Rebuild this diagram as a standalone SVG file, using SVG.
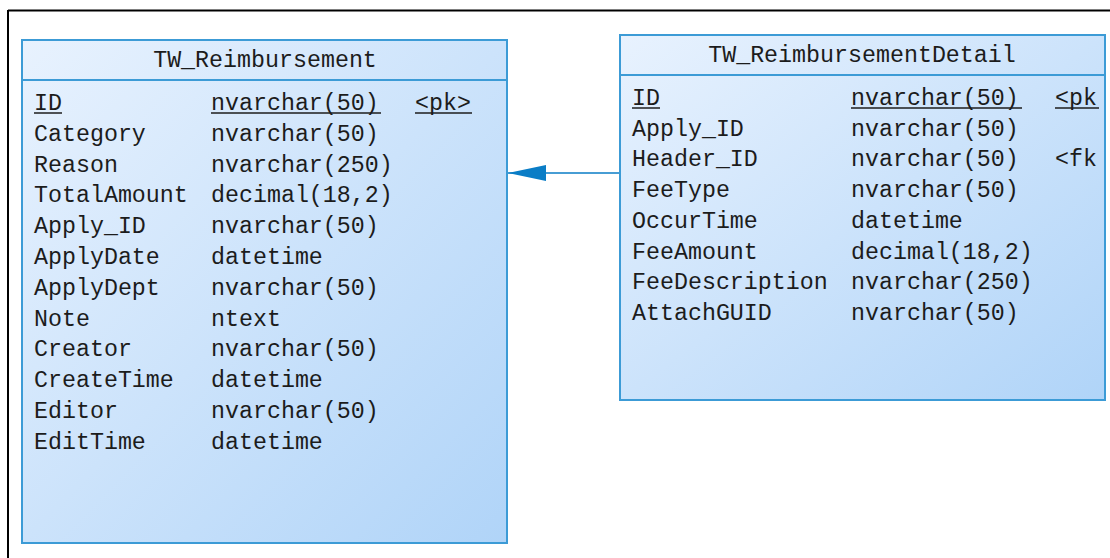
<svg xmlns="http://www.w3.org/2000/svg" width="1110" height="558" viewBox="0 0 1110 558">
<defs>
<linearGradient id="g" x1="0" y1="0" x2="1" y2="1">
<stop offset="0" stop-color="#e8f2fe"/>
<stop offset="1" stop-color="#b0d4f8"/>
</linearGradient>
<marker id="arr" markerWidth="40" markerHeight="18" refX="38" refY="8" orient="auto" markerUnits="userSpaceOnUse">
<path d="M0,0 L38,8 L0,16 Z" fill="#0a7dc6"/>
</marker>
<style>
.box{fill:url(#g);stroke:#3c9bd6;stroke-width:2}
.div{stroke:#3c9bd6;stroke-width:2}
text{font-family:"Liberation Mono","DejaVu Sans Mono",monospace;font-size:23.3px;fill:#1c1c1c}
.t{text-anchor:middle}
.u{stroke:#1c1c1c;stroke-width:1.5}
</style>
</defs>
<g id="frame">
<line x1="8" y1="10.5" x2="1110" y2="10.5" stroke="#000" stroke-width="2"/>
<line x1="8" y1="10" x2="8" y2="558" stroke="#000" stroke-width="2"/>
</g>
<g id="connectors">
<line x1="620" y1="173" x2="508" y2="173" stroke="#0a7dc6" stroke-width="1.5" marker-end="url(#arr)"/>
</g>
<g id="TW_Reimbursement">
<rect class="box" x="22" y="40" width="485" height="503"/>
<line class="div" x1="22" y1="80" x2="507" y2="80"/>
<text class="t" x="265" y="67">TW_Reimbursement</text>
<text x="34" y="110">ID</text><text x="211" y="110">nvarchar(50)</text><text x="415" y="110">&lt;pk&gt;</text>
<line class="u" x1="34" y1="113" x2="62" y2="113"/>
<line class="u" x1="211" y1="113" x2="381" y2="113"/>
<line class="u" x1="415" y1="113" x2="472" y2="113"/>
<text x="34" y="140.8">Category</text><text x="211" y="140.8">nvarchar(50)</text>
<text x="34" y="171.6">Reason</text><text x="211" y="171.6">nvarchar(250)</text>
<text x="34" y="202.4">TotalAmount</text><text x="211" y="202.4">decimal(18,2)</text>
<text x="34" y="233.2">Apply_ID</text><text x="211" y="233.2">nvarchar(50)</text>
<text x="34" y="264">ApplyDate</text><text x="211" y="264">datetime</text>
<text x="34" y="294.8">ApplyDept</text><text x="211" y="294.8">nvarchar(50)</text>
<text x="34" y="325.6">Note</text><text x="211" y="325.6">ntext</text>
<text x="34" y="356.4">Creator</text><text x="211" y="356.4">nvarchar(50)</text>
<text x="34" y="387.2">CreateTime</text><text x="211" y="387.2">datetime</text>
<text x="34" y="418">Editor</text><text x="211" y="418">nvarchar(50)</text>
<text x="34" y="448.8">EditTime</text><text x="211" y="448.8">datetime</text>
</g>
<g id="TW_ReimbursementDetail">
<rect class="box" x="620" y="35" width="485" height="365"/>
<line class="div" x1="620" y1="75" x2="1105" y2="75"/>
<text class="t" x="862" y="62">TW_ReimbursementDetail</text>
<text x="632" y="105">ID</text><text x="851" y="105">nvarchar(50)</text><text x="1055" y="105">&lt;pk</text>
<line class="u" x1="632" y1="108" x2="660" y2="108"/>
<line class="u" x1="851" y1="108" x2="1022" y2="108"/>
<line class="u" x1="1055" y1="108" x2="1099" y2="108"/>
<text x="632" y="135.7">Apply_ID</text><text x="851" y="135.7">nvarchar(50)</text>
<text x="632" y="166.4">Header_ID</text><text x="851" y="166.4">nvarchar(50)</text><text x="1055" y="166.4">&lt;fk</text>
<text x="632" y="197.1">FeeType</text><text x="851" y="197.1">nvarchar(50)</text>
<text x="632" y="227.8">OccurTime</text><text x="851" y="227.8">datetime</text>
<text x="632" y="258.5">FeeAmount</text><text x="851" y="258.5">decimal(18,2)</text>
<text x="632" y="289.2">FeeDescription</text><text x="851" y="289.2">nvarchar(250)</text>
<text x="632" y="319.9">AttachGUID</text><text x="851" y="319.9">nvarchar(50)</text>
</g>
</svg>
